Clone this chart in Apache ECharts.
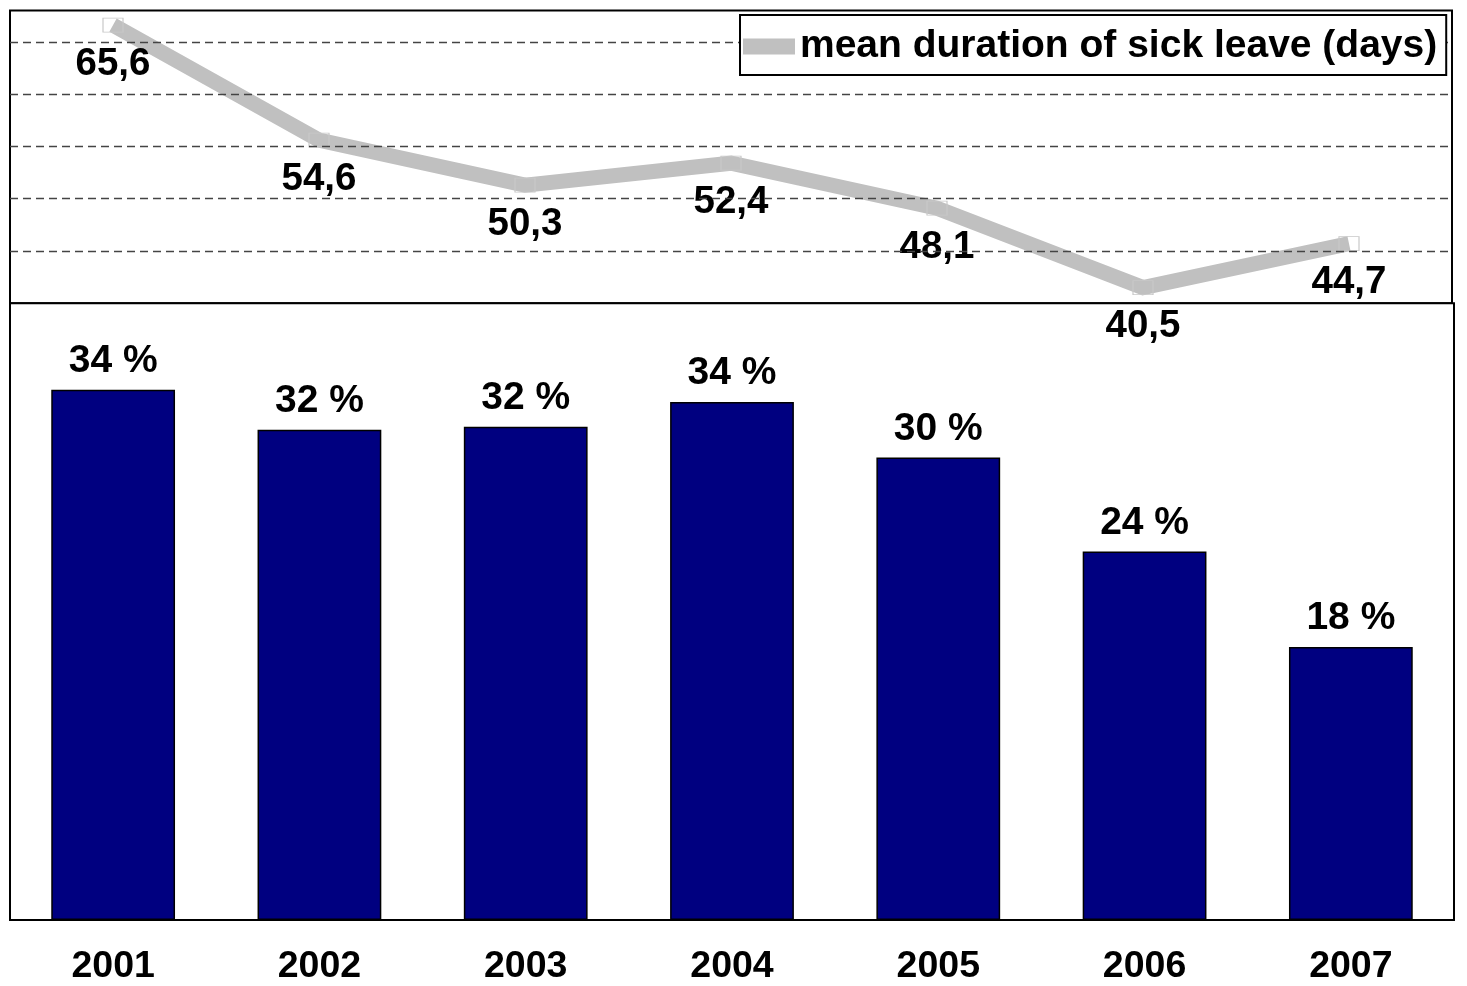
<!DOCTYPE html>
<html>
<head>
<meta charset="utf-8">
<script src="https://cdn.jsdelivr.net/npm/echarts@6/dist/echarts.min.js"></script>
<style>
  html, body { margin: 0; padding: 0; background: #ffffff; }
  #chart { width: 1467px; height: 986px; }
</style>
</head>
<body>
<div id="chart"></div>
<script>
// ---- data ----
const years = ['2001', '2002', '2003', '2004', '2005', '2006', '2007'];
const meanDuration = [65.6, 54.6, 50.3, 52.4, 48.1, 40.5, 44.7];
const sickShare = [34.4, 31.8, 32.0, 33.6, 30.0, 23.9, 17.7];
const durationGridValues = [44, 49, 54, 59, 64];
const lineSeriesName = 'mean duration of sick leave (days)';

const FONT = '"Liberation Sans", Arial, sans-serif';

const chart = echarts.init(document.getElementById('chart'), null, { renderer: 'canvas' });

const option = {
  backgroundColor: '#ffffff',
  animation: false,
  textStyle: { fontFamily: FONT },
  legend: {
    left: 740,
    top: 15,
    padding: [12, 9, 9, 3],
    borderColor: '#000000',
    borderWidth: 2,
    backgroundColor: '#ffffff',
    itemWidth: 52,
    itemHeight: 16,
    data: [{ name: lineSeriesName, icon: 'rect', itemStyle: { color: '#c0c0c0', borderWidth: 0 } }],
    textStyle: { fontFamily: FONT, fontSize: 39, fontWeight: 'bold', color: '#000000' },
    selectedMode: false,
    z: 10
  },
  grid: [
    { left: 10, right: 15, top: 10.5, height: 292.8, show: true, borderColor: '#000000', borderWidth: 2, backgroundColor: '#ffffff' },
    { left: 10, right: 13, top: 303.3, bottom: 65, show: true, borderColor: '#000000', borderWidth: 2, backgroundColor: '#ffffff' }
  ],
  xAxis: [
    { gridIndex: 0, type: 'category', data: years, boundaryGap: true, show: false },
    {
      gridIndex: 1, type: 'category', data: years, boundaryGap: true,
      axisLine: { show: false }, axisTick: { show: false },
      axisLabel: { margin: 28, fontFamily: FONT, fontSize: 37.5, fontWeight: 'bold', color: '#000000' }
    }
  ],
  yAxis: [
    { gridIndex: 0, type: 'value', min: 39, max: 67, show: false, splitLine: { show: false } },
    { gridIndex: 1, type: 'value', min: 0, max: 40, show: false, splitLine: { show: false } }
  ],
  series: [
    {
      name: 'gridlines',
      type: 'line',
      xAxisIndex: 0, yAxisIndex: 0,
      data: [],
      z: 1,
      silent: true,
      markLine: {
        silent: true,
        symbol: 'none',
        label: { show: false },
        lineStyle: { color: '#444444', width: 1.3, type: [8, 5] },
        data: durationGridValues.map(v => ({ yAxis: v }))
      }
    },
    {
      name: lineSeriesName,
      type: 'line',
      xAxisIndex: 0, yAxisIndex: 0,
      data: meanDuration,
      z: 3,
      symbol: 'rect',
      symbolSize: [20, 14],
      itemStyle: { color: 'rgba(255,255,255,0)', borderColor: '#c8c8c8', borderWidth: 1 },
      lineStyle: { color: '#c0c0c0', width: 15, cap: 'butt', join: 'miter' },
      label: {
        show: true,
        position: 'bottom',
        distance: 12,
        fontFamily: FONT,
        fontSize: 38.5,
        fontWeight: 'bold',
        color: '#000000',
        formatter: p => String(p.value).replace('.', ',')
      }
    },
    {
      name: 'share',
      type: 'bar',
      xAxisIndex: 1, yAxisIndex: 1,
      data: sickShare,
      barCategoryGap: '40%',
      itemStyle: { color: '#000080', borderColor: '#000000', borderWidth: 1.5 },
      label: {
        show: true,
        position: 'top',
        distance: 9,
        fontFamily: FONT,
        fontSize: 39,
        fontWeight: 'bold',
        color: '#000000',
        formatter: p => Math.round(p.value) + ' %'
      }
    }
  ]
};

chart.setOption(option);
</script>
</body>
</html>
